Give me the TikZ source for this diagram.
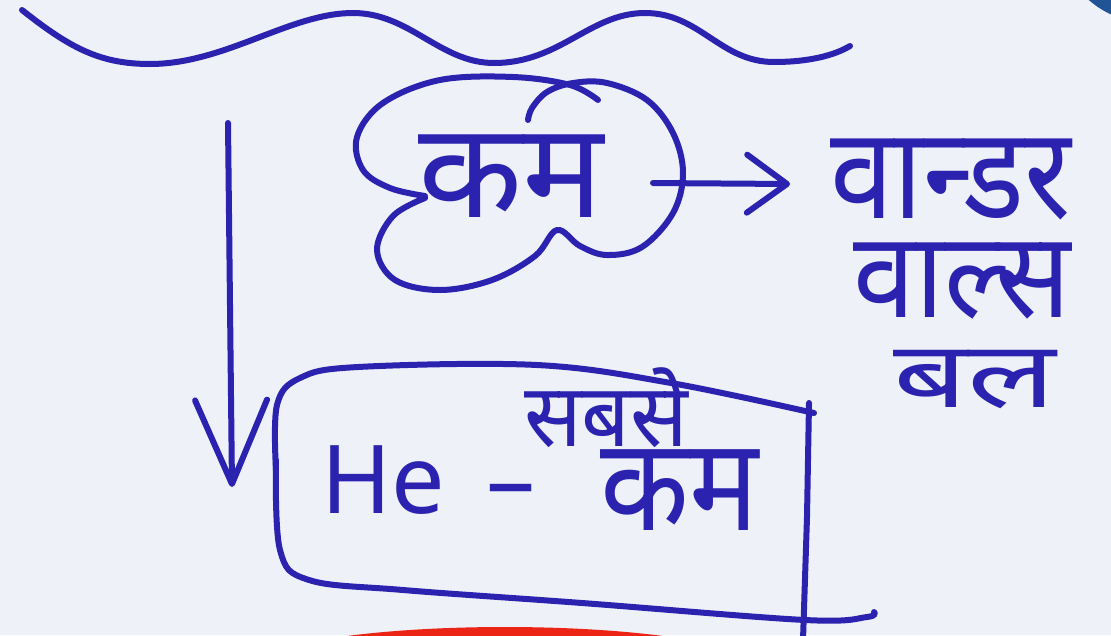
\documentclass[tikz,border=0pt]{standalone}
\usepackage{fontspec}
\usepackage{graphicx}
\newfontfamily\deva[Script=Devanagari]{Noto Sans}
\usetikzlibrary{arrows.meta}
\definecolor{ink}{RGB}{44,34,176}
\definecolor{board}{RGB}{238,241,248}
\definecolor{penred}{RGB}{236,36,22}
\definecolor{rimblue}{RGB}{32,84,150}
\tikzset{
  pen/.style={draw=ink, line width=6pt, line cap=round, line join=round},
  penarrow/.style={pen, -{Straight Barb[length=40pt, width=58pt, round]}},
  downarrow/.style={pen, -{Straight Barb[length=84pt, width=72pt, round]}},
  word/.style={text=ink, inner sep=0pt, anchor=base west, text depth=0pt},
}
\newcommand{\inksize}[1]{\deva\fontsize{#1}{#1}\selectfont}
\begin{document}
\begin{tikzpicture}[x=1pt, y=-1pt]
  \fill[board] (0,0) rectangle (1111,635);
  \useasboundingbox (0,0) rectangle (1111,635);
  % edge of the board
  \fill[penred] (505,667) ellipse [x radius=250, y radius=40];
  \fill[rimblue] (1150,-70) circle (93);

  % wave on top
  \draw[pen] (22,10) .. controls (70,48) and (100,64) .. (150,64)
    .. controls (225,64) and (290,13) .. (353,13)
    .. controls (410,13) and (440,63) .. (494,63)
    .. controls (560,63) and (590,13) .. (645,13)
    .. controls (700,13) and (720,62) .. (774,62)
    .. controls (810,62) and (835,55) .. (850,46);

  % cloud round the word
  \draw[pen] plot[smooth, tension=0.6] coordinates {(598,100) (570,85) (513,77) (440,80) (383,103) (357,137) (363,170) (390,188) (425,196)};
  \draw[pen] plot[smooth, tension=0.6] coordinates {(425,198) (393,216) (377,250) (395,280) (440,290) (492,280) (535,256) (557,230) (580,246) (607,255) (642,247) (673,213) (683,173) (673,133) (647,100) (607,83) (573,83) (547,92) (532,108) (528,120)};
  \node[word, font=\inksize{133}] (kam) at (418,217) {\scalebox{1.02}[1]{कम}};
  \coordinate (kamout) at (653,183);
  \coordinate (kamend) at (790,184);

  % Van der Waals force
  \node[word, font=\inksize{128}, text height=74pt] (vander) at (830,218) {\scalebox{0.89}[1]{वान्डर}};
  \node[word, font=\inksize{120}, text height=70pt] (vals) at (853,317) {\scalebox{0.93}[1]{वाल्स}};
  \node[word, font=\inksize{92}, text height=53pt] (bal) at (893,407) {\scalebox{1.42}[1]{बल}};
  \draw[penarrow] (kamout) -- (kamend);

  % down arrow
  \coordinate (downtop) at (228,123);
  \coordinate (downtip) at (232,487);
  \draw[downarrow] (downtop) -- (downtip);

  % box
  \draw[pen] plot[smooth, tension=0.6] coordinates {(276,470) (277,405) (300,378) (358,367) (537,365) (671,383) (814,413)};
  \draw[pen] plot[smooth, tension=0.6] coordinates {(276,460) (280,550) (309,580) (403,590) (582,603) (805,620) (867,617) (874,612)};
  \draw[pen] (809,403) -- (807,517) -- (803,640);
  \node[word, font=\inksize{95}] (he) at (321,513) {He\hspace{38pt}\scalebox{1.8}[1]{-}};
  \node[word, font=\inksize{130}, text height=72pt] (kambox) at (600,530) {\scalebox{0.89}[1]{कम}};
  \node[word, font=\inksize{88}] (sabse) at (524,446) {\scalebox{0.97}[1]{सबसे}};
\end{tikzpicture}
\end{document}
